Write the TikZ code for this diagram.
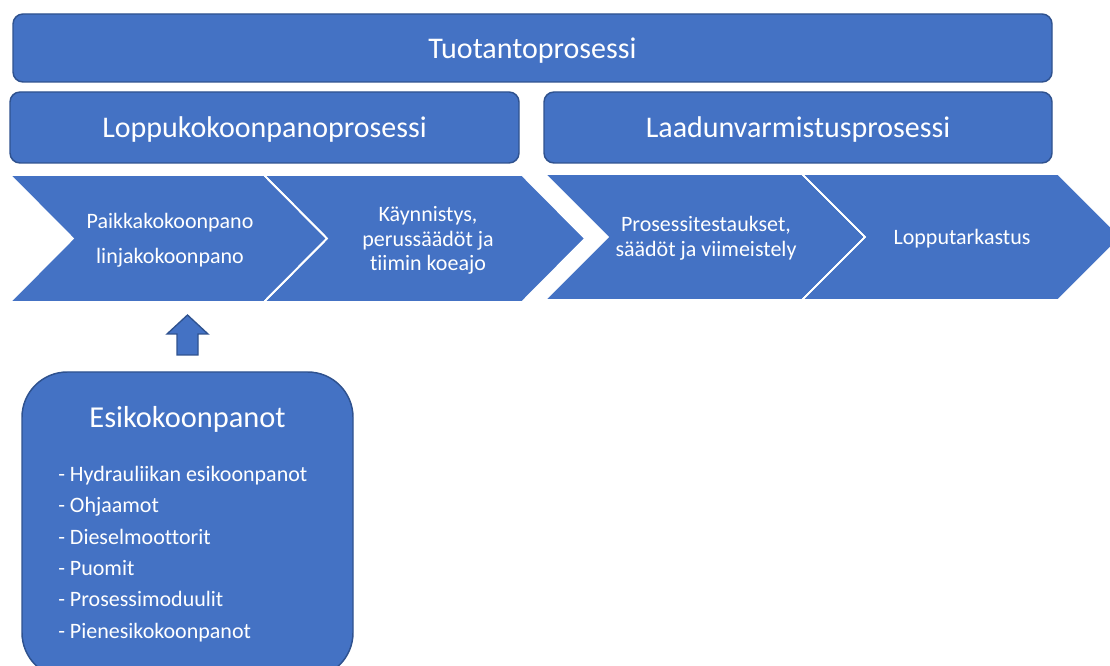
\documentclass[tikz,border=0pt]{standalone}
\usepackage{fontspec}
\setmainfont{Carlito}[Ligatures=NoCommon]
\definecolor{boxfill}{HTML}{4472C4}
\definecolor{boxline}{HTML}{2F528F}
\tikzset{
  procbox/.style={draw=boxline, line width=1.1pt, fill=boxfill, rounded corners=7.5pt,
    text=white, font=\fontsize{22.5}{26}\selectfont, inner sep=0pt, text depth=0pt},
  chev/.style={fill=boxfill, draw=white, line width=1.3pt, line join=miter},
  chevtext/.style={text=white, align=center, inner sep=0pt},
  listitem/.style={text=white, anchor=base west, inner sep=0pt, font=\fontsize{16.5}{19}\selectfont},
}
\begin{document}
\begin{tikzpicture}[x=0.75pt, y=-0.75pt]
  \useasboundingbox (0,0) rectangle (1110,666);
  \clip (0,0) rectangle (1110,666);

  % process level boxes
  \node[procbox, minimum width=779.25pt, minimum height=51pt] (tuo) at (532.5,48) {Tuotantoprosessi};
  \node[procbox, minimum width=381.75pt, minimum height=53.25pt] (lop) at (264.5,127.5) {Loppukokoonpanoprosessi};
  \node[procbox, minimum width=381pt, minimum height=53.25pt] (laa) at (798,127.5) {Laadunvarmistusprosessi};

  % chevron steps
  \fill[chev] (10,175) -- (264,175) -- (327,238.5) -- (264,302) -- (10,302) -- (73,238.5) -- cycle;
  \fill[chev] (264,175) -- (522,175) -- (585,238.5) -- (522,302) -- (264,302) -- (327,238.5) -- cycle;
  \fill[chev] (545,174) -- (802,174) -- (865,237) -- (802,300) -- (545,300) -- (608,237) -- cycle;
  \fill[chev] (802,174) -- (1058,174) -- (1121,237) -- (1058,300) -- (802,300) -- (865,237) -- cycle;
  \draw[white, line width=1.3pt] (264,175) -- (327,238.5) -- (264,302);
  \draw[white, line width=1.3pt] (802,174) -- (865,237) -- (802,300);

  \node[chevtext, font=\fontsize{16.5}{26}\selectfont] (c1) at (170,240) {Paikkakokoonpano\\linjakokoonpano};
  \node[chevtext, font=\fontsize{16.5}{18.5}\selectfont] (c2) at (428,240.5) {Käynnistys,\\perussäädöt ja\\tiimin koeajo};
  \node[chevtext, font=\fontsize{16.5}{18.5}\selectfont] (c3) at (706,238) {Prosessitestaukset,\\säädöt ja viimeistely};
  \node[chevtext, font=\fontsize{16.5}{18.5}\selectfont] (c4) at (962,239) {Lopputarkastus};

  % block arrow from the pre-assembly box
  \filldraw[fill=boxfill, draw=boxline, line width=1pt, line join=miter]
    (187.5,315) -- (208,334) -- (198,334) -- (198,355) -- (177,355) -- (177,334) -- (167,334) -- cycle;

  % pre-assembly box
  \filldraw[fill=boxfill, draw=boxline, line width=1.1pt, rounded corners=34pt]
    (22,372) rectangle (353,678);
  \node[text=white, inner sep=0pt, font=\fontsize{22.8}{26}\selectfont] (esi) at (187.5,419) {Esikokoonpanot};
  \node[listitem] (i1) at (58,481) {- Hydrauliikan esikoonpanot};
  \node[listitem] (i2) at (58,512.5) {- Ohjaamot};
  \node[listitem] (i3) at (58,544) {- Dieselmoottorit};
  \node[listitem] (i4) at (58,575) {- Puomit};
  \node[listitem] (i5) at (58,606.5) {- Prosessimoduulit};
  \node[listitem] (i6) at (58,638) {- Pienesikokoonpanot};
\end{tikzpicture}
\end{document}
